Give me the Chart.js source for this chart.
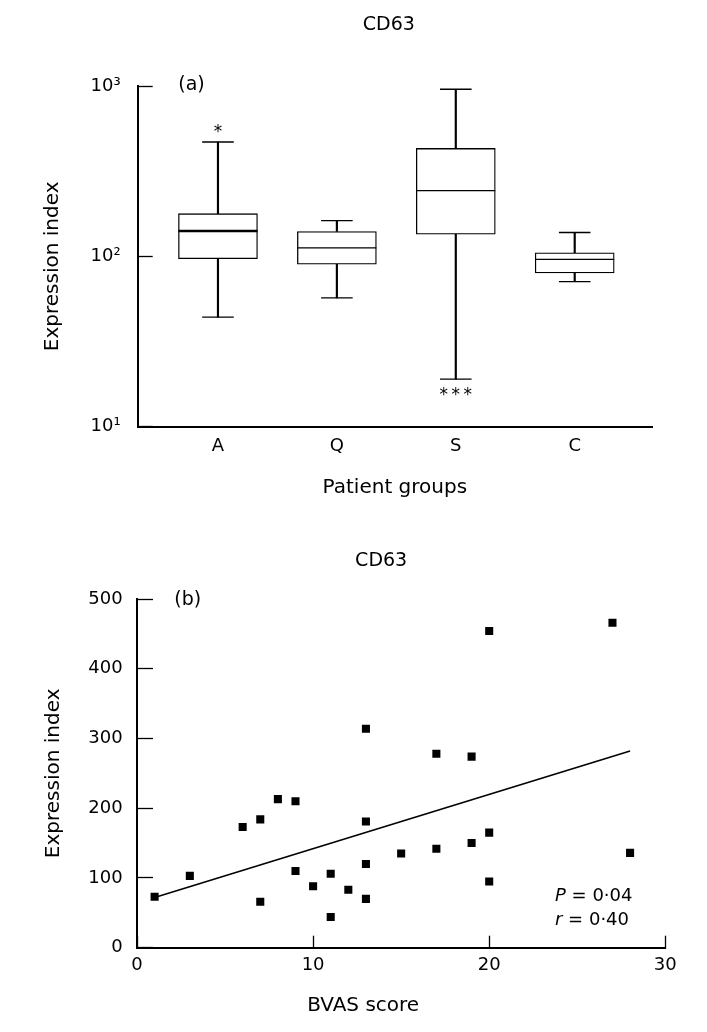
<!DOCTYPE html>
<html>
<head>
<meta charset="utf-8">
<title>CD63</title>
<script src="https://cdn.jsdelivr.net/npm/chart.js@4.4.1/dist/chart.umd.min.js"></script>
<style>
  html, body { margin: 0; padding: 0; background: #fff; }
  .panel { position: absolute; left: 0; }
  #panelA { top: 0; }
  #panelB { top: 515px; }
</style>
</head>
<body>
<canvas id="panelA" class="panel" width="707" height="515"></canvas>
<canvas id="panelB" class="panel" width="707" height="517"></canvas>
<script>
// ---- DATA: (a) box plots by patient group ----
const groups = ['A', 'Q', 'S', 'C'];
const whiskerLow = [44, 57, 19, 71];
const boxLow = [97, 90, 135, 80];
const medians = [141, 112, 243, 96];
const boxHigh = [178, 140, 430, 105];
const whiskerHigh = [469, 162, 957, 138];
const marksAbove = ['*', '', '', ''];
const marksBelow = ['', '', '***', ''];
const logTicks = [10, 100, 1000];
const logTickLabels = ['10¹', '10²', '10³'];

// ---- DATA: (b) BVAS score vs expression index ----
const bvas =       [1, 3, 6, 7, 7, 8, 9, 9, 10, 11, 11, 12, 13, 13, 13, 13, 15, 17, 17, 19, 19, 20, 20, 20, 27, 28];
const expression = [73, 103, 173, 184, 66, 213, 210, 110, 88, 106, 44, 83, 70, 120, 181, 314, 135, 142, 278, 274, 150, 165, 95, 454, 466, 136];
const fitX = [1, 28];
const fitY = [72, 282];
const statLines = [['P', ' = 0·04'], ['r', ' = 0·40']];

const ink = '#000';
const family = "'DejaVu Sans', sans-serif";
Chart.defaults.font.family = family;
Chart.defaults.font.size = 18;
Chart.defaults.color = ink;

// text notes: panel title, letter, asterisks, stats, shifted axis titles
const panelNotes = {
  id: 'panelNotes',
  afterDatasetsDraw(chart, args, opts) {
    const ctx = chart.ctx;
    const area = chart.chartArea;
    const midX = (area.left + area.right) / 2;
    const midY = (area.top + area.bottom) / 2;
    ctx.save();
    ctx.fillStyle = ink;
    ctx.textBaseline = 'middle';

    // panel title
    ctx.font = '19px ' + family;
    ctx.textAlign = 'center';
    ctx.fillText(opts.title, midX + opts.titleDx, opts.titleY);

    // panel letter
    ctx.textAlign = 'left';
    ctx.fillText(opts.letter, area.left + opts.letterDx, area.top + opts.letterDy);

    // axis titles that sit off-centre in the original
    ctx.font = '20px ' + family;
    if (opts.xTitle) {
      ctx.textAlign = 'center';
      ctx.fillText(opts.xTitle, midX + opts.xTitleDx, area.bottom + opts.xTitleDy);
    }
    if (opts.yTitle) {
      ctx.save();
      ctx.translate(area.left + opts.yTitleDx, midY + opts.yTitleDy);
      ctx.rotate(-Math.PI / 2);
      ctx.textAlign = 'center';
      ctx.fillText(opts.yTitle, 0, 0);
      ctx.restore();
    }

    if (opts.asterisks) {
      const xs = chart.scales.x, ys = chart.scales.y;
      const fs = 17;
      ctx.font = fs + 'px ' + family;
      ctx.textAlign = 'center';
      ctx.textBaseline = 'alphabetic';
      const drawMarks = (str, cx, cy) => {
        const n = str.length;
        for (let k = 0; k < n; k++) {
          ctx.fillText('*', cx + (k - (n - 1) / 2) * 12, cy + fs * 0.59);
        }
      };
      groups.forEach((g, i) => {
        const cx = xs.getPixelForValue(i + 1);
        if (marksAbove[i]) drawMarks(marksAbove[i], cx, ys.getPixelForValue(whiskerHigh[i]) - 15);
        if (marksBelow[i]) drawMarks(marksBelow[i], cx, ys.getPixelForValue(whiskerLow[i]) + 11);
      });
    }

    if (opts.stats) {
      ctx.textAlign = 'left';
      ctx.textBaseline = 'middle';
      statLines.forEach((parts, k) => {
        const x0 = area.right - 110.3;
        const y0 = area.bottom - 51 + k * 24;
        ctx.font = 'italic 18px ' + family;
        ctx.fillText(parts[0], x0, y0);
        const w = ctx.measureText(parts[0]).width;
        ctx.font = '18px ' + family;
        ctx.fillText(parts[1], x0 + w, y0);
      });
    }
    ctx.restore();
  }
};

// ---- PANEL (a) ----
const boxData = groups.map((g, i) => ({ x: i + 1, y: [boxLow[i], boxHigh[i]] }));
const stemLowData = groups.map((g, i) => ({ x: i + 1, y: [whiskerLow[i], boxLow[i]] }));
const stemHighData = groups.map((g, i) => ({ x: i + 1, y: [boxHigh[i], whiskerHigh[i]] }));
const capData = groups.flatMap((g, i) => [{ x: i + 1, y: whiskerLow[i] }, { x: i + 1, y: whiskerHigh[i] }]);
const medianData = groups.map((g, i) => ({ x: i + 1, y: medians[i] }));

new Chart(document.getElementById('panelA'), {
  type: 'bar',
  data: {
    datasets: [
      {
        type: 'scatter', data: medianData, order: 0,
        pointStyle: 'line', pointRadius: 39.5, pointHoverRadius: 39.5,
        borderColor: ink, pointBorderWidth: [2.6, 1.3, 1.3, 1.3], showLine: false,
      },
      {
        type: 'scatter', data: capData, order: 1,
        pointStyle: 'line', pointRadius: 15.8, pointHoverRadius: 15.8,
        borderColor: ink, pointBorderWidth: 1.3, showLine: false,
      },
      {
        data: boxData, order: 2, grouped: false,
        backgroundColor: '#fff', borderColor: ink, borderWidth: 1.3,
        borderSkipped: false, barThickness: 79,
      },
      {
        data: stemLowData, order: 3, grouped: false,
        backgroundColor: ink, borderWidth: 0, barThickness: 1.5,
      },
      {
        data: stemHighData, order: 3, grouped: false,
        backgroundColor: ink, borderWidth: 0, barThickness: 1.5,
      },
    ]
  },
  options: {
    responsive: false,
    animation: false,
    events: [],
    layout: { padding: { left: 0, right: 55, top: 86, bottom: 0 } },
    plugins: {
      legend: { display: false },
      tooltip: { enabled: false },
      title: { display: false },
      panelNotes: {
        title: 'CD63', titleDx: -6, titleY: 25,
        letter: '(a)', letterDx: 40.6, letterDy: -1,
        yTitle: 'Expression index', yTitleDx: -84.7, yTitleDy: 10,
        asterisks: true,
      },
    },
    scales: {
      x: {
        type: 'linear', position: 'bottom', offset: false,
        min: 0.325, max: 4.65,
        afterBuildTicks: s => { s.ticks = groups.map((g, i) => ({ value: i + 1 })); },
        afterFit: s => { s.height = 88.3; },
        ticks: { callback: (v, i) => groups[i], padding: 8.5, font: { size: 18 }, color: ink },
        grid: { display: false, drawTicks: false },
        border: { display: true, color: ink, width: 2 },
        title: {
          display: true, text: 'Patient groups', color: ink,
          font: { size: 20 }, padding: { top: 0, bottom: 15 },
        },
      },
      y: {
        type: 'logarithmic',
        min: 10, max: 1000,
        afterBuildTicks: s => { s.ticks = logTicks.map(v => ({ value: v })); },
        afterFit: s => { s.width = 137.7; },
        ticks: { callback: (v, i) => logTickLabels[i], padding: 32, font: { size: 18 }, color: ink },
        grid: {
          display: true, drawOnChartArea: false, drawTicks: true,
          tickLength: -15, tickWidth: 1.3, tickColor: ink,
        },
        border: { display: true, color: ink, width: 2 },
        title: { display: false },
      },
    },
  },
  plugins: [panelNotes],
});

// ---- PANEL (b) ----
const scatterData = bvas.map((b, i) => ({ x: b, y: expression[i] }));
const fitData = fitX.map((x, i) => ({ x, y: fitY[i] }));

new Chart(document.getElementById('panelB'), {
  type: 'scatter',
  data: {
    datasets: [
      {
        data: scatterData, order: 0,
        pointStyle: 'rect', pointRadius: 5.7, pointHoverRadius: 5.7,
        backgroundColor: ink, borderWidth: 0,
      },
      {
        type: 'line', data: fitData, order: 1,
        borderColor: ink, borderWidth: 1.6, pointRadius: 0, fill: false,
      },
    ]
  },
  options: {
    responsive: false,
    animation: false,
    events: [],
    layout: { padding: { left: 0, right: 41.7, top: 84, bottom: 0 } },
    plugins: {
      legend: { display: false },
      tooltip: { enabled: false },
      title: { display: false },
      panelNotes: {
        title: 'CD63', titleDx: -20, titleY: 46.5,
        letter: '(b)', letterDx: 37.3, letterDy: 1.5,
        xTitle: 'BVAS score', xTitleDx: -38, xTitleDy: 58.3,
        stats: true,
      },
    },
    scales: {
      x: {
        type: 'linear', position: 'bottom',
        min: 0, max: 30,
        afterFit: s => { s.height = 84.3; },
        ticks: { stepSize: 10, padding: 19.2, font: { size: 18 }, color: ink },
        grid: {
          display: true, drawOnChartArea: false, drawTicks: true,
          tickLength: -12, tickWidth: 1.3, tickColor: ink,
        },
        border: { display: true, color: ink, width: 2 },
        title: { display: false },
      },
      y: {
        type: 'linear',
        min: 0, max: 500,
        afterFit: s => { s.width = 137; },
        ticks: { stepSize: 100, padding: 30.3, font: { size: 18 }, color: ink },
        grid: {
          display: true, drawOnChartArea: false, drawTicks: true,
          tickLength: -16, tickWidth: 1.3, tickColor: ink,
        },
        border: { display: true, color: ink, width: 2 },
        title: {
          display: true, text: 'Expression index', color: ink,
          font: { size: 20 }, padding: { top: 41.6, bottom: 0 },
        },
      },
    },
  },
  plugins: [panelNotes],
});
</script>
</body>
</html>
